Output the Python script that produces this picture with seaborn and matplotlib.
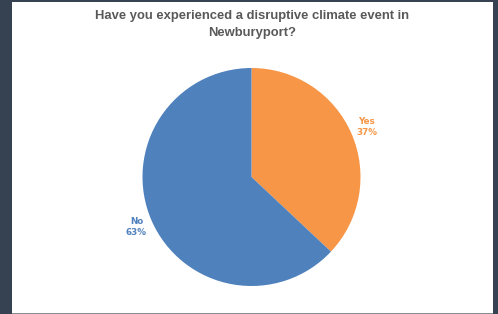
import matplotlib
matplotlib.use("Agg")
import matplotlib.pyplot as plt
import seaborn as sns
from matplotlib.patches import Rectangle

sns.set_style("white")
plt.rcParams['font.family'] = ['Liberation Sans', 'DejaVu Sans']

categories = ["Yes", "No"]
values = [37, 63]
colors = ["#F79646", "#4F81BD"]
title = "Have you experienced a disruptive climate event in\nNewburyport?"

W, H = 498, 314
fig = plt.figure(figsize=(W / 100, H / 100), dpi=100)
fig.patch.set_facecolor("#364152")
fig.patches.append(Rectangle((12 / W, 0), 481 / W, 312 / H, transform=fig.transFigure,
                             facecolor="white", edgecolor="none", zorder=-5))
fig.patches.append(Rectangle((12 / W, 0), 481 / W, 1.5 / H, transform=fig.transFigure,
                             facecolor="#8a8d93", edgecolor="none", zorder=-4))

cx, cy, r = 251.5, 177, 109
ax = fig.add_axes([(cx - r) / W, (H - cy - r) / H, 2 * r / W, 2 * r / H])
ax.set_zorder(2)
ax.set_facecolor("none")
wedges, texts = ax.pie(values, labels=[f"{c}\n{v}%" for c, v in zip(categories, values)],
                       colors=colors, startangle=90, counterclock=False,
                       labeldistance=1.15,
                       wedgeprops=dict(edgecolor="none", linewidth=0),
                       textprops=dict(fontsize=6.3, fontweight="bold", family=["DejaVu Sans"]))
for t, c in zip(texts, colors):
    t.set_color(c)
    t.set_horizontalalignment("center")
    t.set_multialignment("center")
    t.set_linespacing(1.3)
ax.set_xlim(-1, 1)
ax.set_ylim(-1, 1)
ax.set_aspect("equal")
ax.axis("off")

fig.text(252 / W, 1 - 24.5 / H, title, ha="center", va="center", fontsize=9.4,
         fontweight="bold", color="#595959", linespacing=1.45, zorder=3)

fig.savefig("out.png", dpi=100, facecolor=fig.get_facecolor())
